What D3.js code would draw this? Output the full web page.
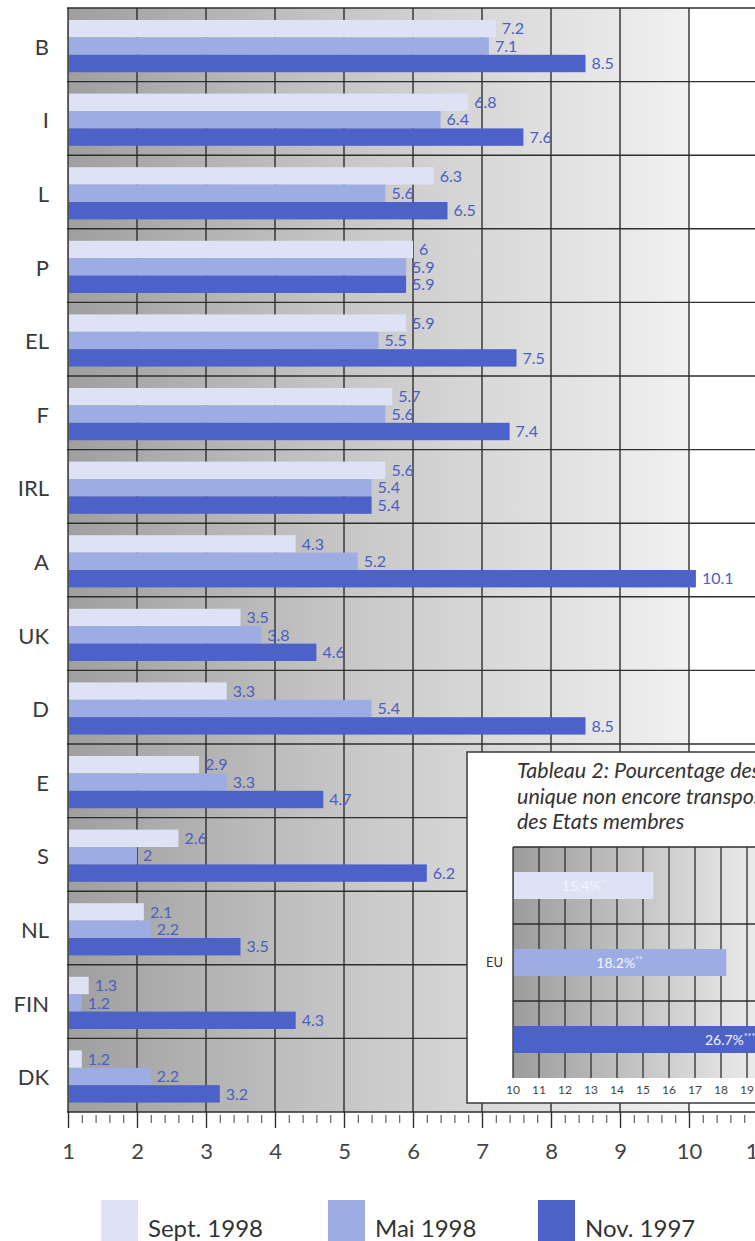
<!DOCTYPE html>
<meta charset="utf-8">
<script src="https://d3js.org/d3.v7.min.js"></script>
<style>
  body { margin: 0; background: #fff; }
  svg { display: block; font-family: Lato, "Open Sans", sans-serif; }
</style>
<body>
<div id="chart"></div>
<script>

// data
var categories = ["B", "I", "L", "P", "EL", "F", "IRL", "A", "UK", "D", "E", "S", "NL", "FIN", "DK"];
var series = ["Sept. 1998", "Mai 1998", "Nov. 1997"];
var sept98 = [7.2, 6.8, 6.3, 6, 5.9, 5.7, 5.6, 4.3, 3.5, 3.3, 2.9, 2.6, 2.1, 1.3, 1.2];
var mai98  = [7.1, 6.4, 5.6, 5.9, 5.5, 5.6, 5.4, 5.2, 3.8, 5.4, 3.3, 2, 2.2, 1.2, 2.2];
var nov97  = [8.5, 7.6, 6.5, 5.9, 7.5, 7.4, 5.4, 10.1, 4.6, 8.5, 4.7, 6.2, 3.5, 4.3, 3.2];
var xTicks = [1, 2, 3, 4, 5, 6, 7, 8, 9, 10, 11];

// inset (Tableau 2)
var insetCategory = "EU";
var insetValues = [15.4, 18.2, 26.7];
var insetLabels = ["15.4%", "18.2%", "26.7%"];
var insetStars = ["*", "**", "***"];
var insetTicks = [10, 11, 12, 13, 14, 15, 16, 17, 18, 19, 20];
var insetTitle = ["Tableau 2: Pourcentage des directives du marché",
                  "unique non encore transposées dans l'ensemble",
                  "des Etats membres"];

var colors = ["#dde3f4", "#9dace3", "#4c62c8"];
var labelColor = "#4a5ec4";
var gridColor = "#2e2e2e";
var values = [sept98, mai98, nov97];

var width = 755, height = 1241;
var plotTop = 8, plotBottom = 1112;

var svg = d3.select("#chart").append("svg")
    .attr("width", width)
    .attr("height", height);

var defs = svg.append("defs");
var g1 = defs.append("linearGradient").attr("id", "bgMain")
    .attr("gradientUnits", "userSpaceOnUse")
    .attr("x1", 68).attr("x2", 689).attr("y1", 0).attr("y2", 0);
g1.append("stop").attr("offset", 0).attr("stop-color", "#9f9f9f");
g1.append("stop").attr("offset", 0.5).attr("stop-color", "#cbcbcb");
g1.append("stop").attr("offset", 1).attr("stop-color", "#f1f1f1");

var g2 = defs.append("linearGradient").attr("id", "bgInset")
    .attr("gradientUnits", "userSpaceOnUse")
    .attr("x1", 513).attr("x2", 760).attr("y1", 0).attr("y2", 0);
g2.append("stop").attr("offset", 0).attr("stop-color", "#9c9c9c");
g2.append("stop").attr("offset", 1).attr("stop-color", "#ececec");

// scales
var x = d3.scaleLinear().domain([1, 10]).range([68, 689]);
var y = d3.scaleBand().domain(categories).range([plotTop, plotBottom]);
var ySub = d3.scaleBand().domain(series).range([12, 64.2]);

// background
svg.append("rect")
    .attr("x", x(1)).attr("y", plotTop)
    .attr("width", x(10) - x(1)).attr("height", plotBottom - plotTop)
    .attr("fill", "url(#bgMain)");

// grid
var grid = svg.append("g").attr("stroke", gridColor).attr("stroke-width", 1.4);
grid.selectAll("line.v")
  .data(d3.range(1, 11))
  .enter().append("line")
    .attr("x1", function(d) { return x(d); })
    .attr("x2", function(d) { return x(d); })
    .attr("y1", plotTop).attr("y2", plotBottom);
grid.selectAll("line.h")
  .data(categories)
  .enter().append("line")
    .attr("x1", x(1) - 1).attr("x2", width)
    .attr("y1", function(d) { return y(d); })
    .attr("y2", function(d) { return y(d); });

// bars
series.forEach(function(s, si) {
  var rows = categories.map(function(c, i) { return {c: c, v: values[si][i]}; });
  svg.append("g").selectAll("rect")
    .data(rows)
    .enter().append("rect")
      .attr("x", x(1) + 1)
      .attr("y", function(d) { return y(d.c) + ySub(s); })
      .attr("width", function(d) { return x(d.v) - x(1) - 1; })
      .attr("height", ySub.bandwidth())
      .attr("fill", colors[si]);
  svg.append("g").selectAll("text")
    .data(rows)
    .enter().append("text")
      .attr("x", function(d) { return x(d.v) + 6; })
      .attr("y", function(d) { return y(d.c) + ySub(s) + ySub.bandwidth() / 2; })
      .attr("dy", "0.36em")
      .attr("font-size", 16)
      .attr("fill", labelColor)
      .text(function(d) { return String(d.v); });
});

// category labels
svg.append("g").selectAll("text")
  .data(categories)
  .enter().append("text")
    .attr("x", 49)
    .attr("y", function(d) { return y(d) + y.bandwidth() / 2 + 2; })
    .attr("dy", "0.36em")
    .attr("text-anchor", "end")
    .attr("font-size", 22)
    .attr("fill", "#3a3a3a")
    .text(function(d) { return d; });

// inset box
svg.append("rect")
    .attr("x", 467).attr("y", 752)
    .attr("width", 320).attr("height", 351)
    .attr("fill", "#fff")
    .attr("stroke", "#3a3a3a").attr("stroke-width", 1.5);

svg.append("g").selectAll("text")
  .data(insetTitle)
  .enter().append("text")
    .attr("x", 517)
    .attr("y", function(d, i) { return 778 + i * 25.5; })
    .attr("font-size", 21.5)
    .attr("font-style", "italic")
    .attr("fill", "#333")
    .text(function(d) { return d; });

var xi = d3.scaleLinear().domain([10, 19]).range([513, 747]);
var yi = d3.scaleBand().domain(series).range([847, 1078]);
var insetBarH = 27;

svg.append("rect")
    .attr("x", xi(10)).attr("y", 847)
    .attr("width", width - xi(10)).attr("height", 1078 - 847)
    .attr("fill", "url(#bgInset)");

var igrid = svg.append("g").attr("stroke", gridColor).attr("stroke-width", 1.3);
igrid.selectAll("line.v")
  .data(insetTicks)
  .enter().append("line")
    .attr("x1", function(d) { return xi(d); })
    .attr("x2", function(d) { return xi(d); })
    .attr("y1", 847).attr("y2", 1078);
igrid.selectAll("line.h")
  .data(series)
  .enter().append("line")
    .attr("x1", xi(10)).attr("x2", width)
    .attr("y1", function(d) { return yi(d); })
    .attr("y2", function(d) { return yi(d); });

svg.append("g").selectAll("rect")
  .data(series)
  .enter().append("rect")
    .attr("x", xi(10) + 1)
    .attr("y", function(d) { return yi(d) + (yi.bandwidth() - insetBarH) / 2; })
    .attr("width", function(d, i) { return xi(insetValues[i]) - xi(10) - 1; })
    .attr("height", insetBarH)
    .attr("fill", function(d, i) { return colors[i]; });

var ilab = svg.append("g").selectAll("text")
  .data(series)
  .enter().append("text")
    .attr("x", function(d, i) { return (xi(10) + xi(insetValues[i])) / 2; })
    .attr("y", function(d) { return yi(d) + yi.bandwidth() / 2; })
    .attr("dy", "0.36em")
    .attr("text-anchor", "middle")
    .attr("font-size", 14)
    .attr("fill", function(d, i) { return i === 0 ? "#f3f5fc" : "#f4f6ff"; });
ilab.append("tspan").text(function(d, i) { return insetLabels[i]; });
ilab.append("tspan")
    .attr("font-size", 9)
    .attr("dy", "-0.5em")
    .text(function(d, i) { return insetStars[i]; });

svg.append("text")
    .attr("x", 503)
    .attr("y", yi(series[1]) + yi.bandwidth() / 2)
    .attr("dy", "0.36em")
    .attr("text-anchor", "end")
    .attr("font-size", 13)
    .attr("fill", "#333")
    .text(insetCategory);

svg.append("g").selectAll("text")
  .data(insetTicks)
  .enter().append("text")
    .attr("x", function(d) { return xi(d); })
    .attr("y", 1094)
    .attr("text-anchor", "middle")
    .attr("font-size", 12)
    .attr("fill", "#444")
    .text(function(d) { return d; });

// bottom axis
svg.append("line")
    .attr("x1", x(1) - 1).attr("x2", width)
    .attr("y1", plotBottom).attr("y2", plotBottom)
    .attr("stroke", gridColor).attr("stroke-width", 1.4);

var minor = d3.range(1, 11.05, 0.2).filter(function(d) { return Math.abs(d - Math.round(d)) > 0.01; });
var minorAxis = svg.append("g")
    .attr("transform", "translate(0," + (plotBottom + 3) + ")")
    .call(d3.axisBottom(x).tickValues(minor).tickSize(8).tickFormat(""));
minorAxis.select(".domain").remove();
minorAxis.selectAll("line").attr("stroke", "#555").attr("stroke-width", 1.1);

var xAxis = svg.append("g")
    .attr("transform", "translate(0," + plotBottom + ")")
    .call(d3.axisBottom(x).tickValues(xTicks).tickSize(16).tickPadding(15));
xAxis.select(".domain").remove();
xAxis.selectAll("line").attr("stroke", gridColor).attr("stroke-width", 1.4);
xAxis.selectAll("text")
    .attr("font-family", "Lato, sans-serif")
    .attr("font-size", 22)
    .attr("fill", "#444");

// legend
var legend = svg.append("g").selectAll("g")
  .data(series)
  .enter().append("g")
    .attr("transform", function(d, i) { return "translate(" + [101, 328, 538][i] + ",1200)"; });
legend.append("rect")
    .attr("width", 37).attr("height", 41)
    .attr("fill", function(d, i) { return colors[i]; });
legend.append("text")
    .attr("x", 47).attr("y", 37)
    .attr("font-size", 24)
    .attr("fill", "#333")
    .text(function(d) { return d; });

</script>
</body>
